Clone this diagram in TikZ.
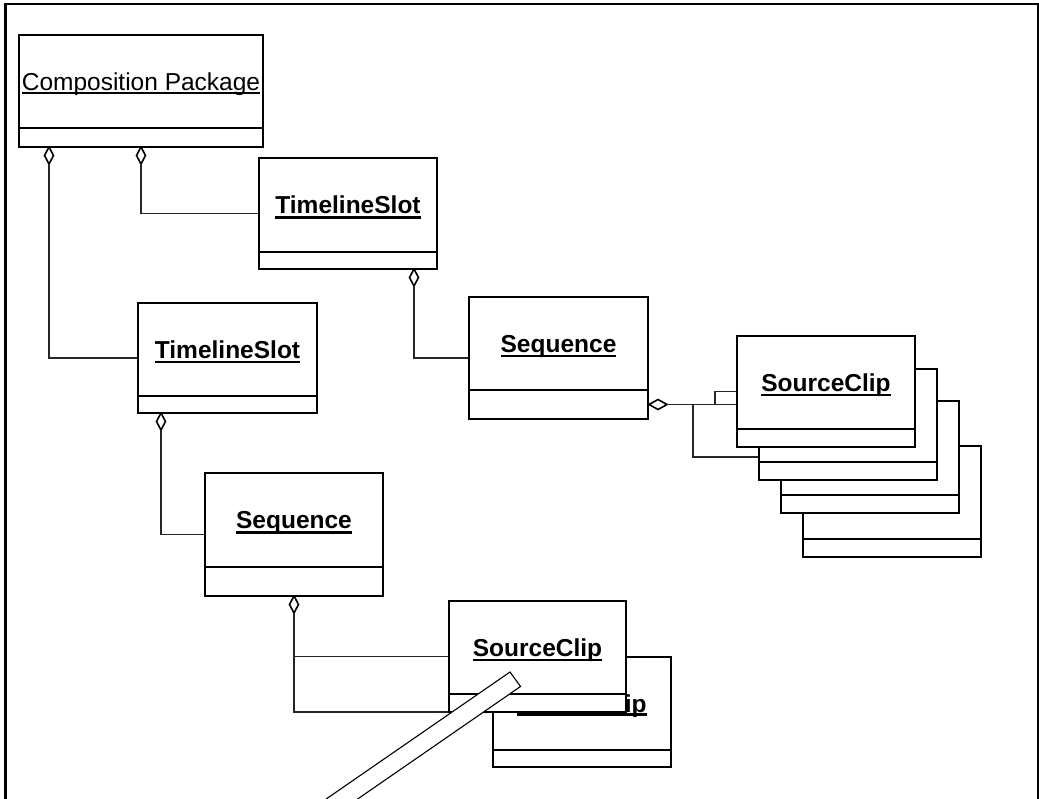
\documentclass[tikz,border=0pt]{standalone}
\usepackage{fontspec}
\setmainfont{Liberation Sans}
\usetikzlibrary{calc,shapes.geometric}

\tikzset{
  boxline/.style={draw=black, line width=1.8pt},
  classbox/.style={boxline, fill=white, rectangle, inner sep=0pt, outer sep=0pt},
  conn/.style={draw=black!85, line width=1.1pt},
  aggv/.style={diamond, draw=black, fill=white, line width=1.6pt, inner sep=0pt, outer sep=0pt,
    minimum width=9pt, minimum height=17pt},
  aggh/.style={aggv, minimum width=18pt, minimum height=10pt},
  endpt/.style={inner sep=0pt, outer sep=0pt, minimum size=0pt},
  lbl-bold/.style={inner sep=0pt, outer sep=0pt, anchor=base, font=\fontsize{24.5}{29}\selectfont\bfseries},
  lbl-plain/.style={inner sep=0pt, outer sep=0pt, anchor=base, font=\fontsize{24.5}{29}\selectfont},
  ul-bold/.style={draw=black, line width=2.8pt},
  ul-plain/.style={draw=black, line width=1.6pt},
  frameline/.style={draw=black, line width=2.4pt},
  bar/.style={draw=black, fill=white, line width=1.1pt},
}

% #1 name, #2 left, #3 top, #4 right, #5 bottom, #6 lower compartment height,
% #7 label, #8 label kind (bold/plain), #9 underline drop below baseline
\newcommand{\umlclass}[9]{%
  \node[classbox, minimum width={(#4)-(#2)}, minimum height={(#5)-(#3)}]
    (#1) at ({((#2)+(#4))/2},{((#3)+(#5))/2}) {};
  \draw[boxline] ($(#1.south west)+(0,-#6)$) -- ($(#1.south east)+(0,-#6)$);
  \if\relax\detokenize{#7}\relax\else
    \node[lbl-#8] (#1-label) at ({((#2)+(#4))/2},{((#3)+(#5)-(#6))/2+8.75}) {#7};
    \draw[ul-#8] ([yshift=-#9pt]#1-label.base west) -- ([yshift=-#9pt]#1-label.base east);
  \fi
}

\begin{document}
\begin{tikzpicture}[x=1pt, y=-1pt]
  \useasboundingbox (0,0) rectangle (1039,799);
  \clip (0,0) rectangle (1039,799);

  % outer frame
  \draw[frameline] (5.5,830) -- (5.5,4) -- (1038.5,4) -- (1038.5,830);

  % aggregation diamonds on the owning classes
  \node[aggv] (dCpA) at (49,155.5) {};
  \node[aggv] (dCpB) at (141,155.5) {};
  \node[aggv] (dTs1) at (414,277.5) {};
  \node[aggv] (dTs2) at (161,421.5) {};
  \node[aggv] (dSq2) at (294,604.5) {};
  \node[aggh] (dSq1) at (658,404.5) {};

  % where the connectors meet the owned classes
  \node[endpt] (ts2w) at (138,358) {};
  \node[endpt] (ts1w) at (259,213.5) {};
  \node[endpt] (sq1w) at (469,358) {};
  \node[endpt] (sq2w) at (205,534.5) {};
  \node[endpt] (scAw) at (449,656.5) {};
  \node[endpt] (scBw) at (493,712) {};
  \node[endpt] (c1w) at (737,391.5) {};
  \node[endpt] (c2w) at (759,404.5) {};
  \node[endpt] (c3w) at (781,457) {};
  \coordinate (stepA) at (715,391.5);
  \coordinate (stepC) at (693,457);

  % connectors
  \draw[conn] (dCpA.south) |- (ts2w);
  \draw[conn] (dCpB.south) |- (ts1w);
  \draw[conn] (dTs1.south) |- (sq1w);
  \draw[conn] (dTs2.south) |- (sq2w);
  \draw[conn] (dSq2.south) |- (scAw);
  \draw[conn] (dSq2.south) |- (scBw);
  \draw[conn] (dSq1.east) -- (c2w);
  \draw[conn] (dSq1.east) -| (stepA) -- (c1w);
  \draw[conn] (dSq1.east) -| (stepC) -- (c3w);

  % class boxes
  \umlclass{cp}{19}{35}{263}{147}{19}{Composition Package}{plain}{2.6}
  \umlclass{ts1}{259}{158}{437}{269}{17}{TimelineSlot}{bold}{3.8}
  \umlclass{ts2}{138}{303}{317}{413}{17}{TimelineSlot}{bold}{3.8}
  \umlclass{seq1}{469}{297}{648}{419}{29}{Sequence}{bold}{3.8}
  \umlclass{seq2}{205}{473}{383}{596}{29}{Sequence}{bold}{3.8}

  % stack of source clips, back to front
  \umlclass{card4}{803}{446}{981}{557}{18}{}{bold}{0}
  \umlclass{card3}{781}{401}{959}{513}{18}{}{bold}{0}
  \umlclass{card2}{759}{369}{937}{480}{18}{}{bold}{0}
  \umlclass{card1}{737}{336}{915}{447}{18}{SourceClip}{bold}{3.8}

  % lower pair of source clips
  \umlclass{clipB}{493}{657}{671}{767}{17}{SourceClip}{bold}{2.2}
  \umlclass{clipA}{449}{601}{626}{712}{18}{SourceClip}{bold}{3.8}

  % long slanted bar crossing the lower clips
  \draw[bar] (510,672) -- (520.5,686.5) -- (273.7,857) -- (263.2,842.5) -- cycle;
\end{tikzpicture}
\end{document}
